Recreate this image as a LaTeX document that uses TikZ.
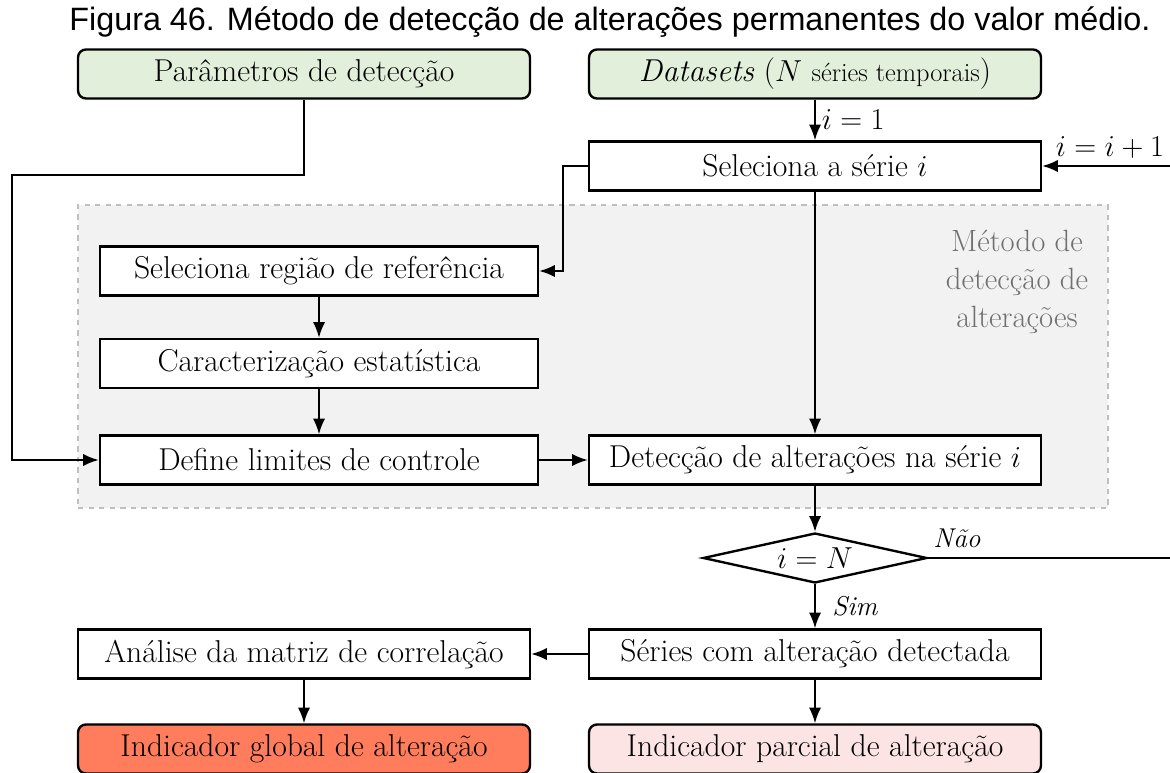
\documentclass[tikz,border=0pt]{standalone}
\usepackage{fontspec}
\newfontfamily\captionfont{Liberation Sans}
\definecolor{inputgreen}{RGB}{226,239,218}
\definecolor{methodgray}{RGB}{242,242,242}
\definecolor{dashgray}{RGB}{191,191,191}
\definecolor{labelgray}{RGB}{112,112,112}
\definecolor{globalred}{RGB}{255,124,92}
\definecolor{partialpink}{RGB}{252,228,228}
\usetikzlibrary{arrows.meta,positioning,shapes.geometric}

\tikzset{
  box/.style={draw, line width=1.35pt, fill=white, minimum height=0.98cm, align=center, font=\fontsize{18}{21}\selectfont},
  inbox/.style={box, rounded corners=4.5pt, fill=inputgreen, minimum width=9.04cm},
  outbox/.style={box, rounded corners=4.5pt, minimum width=9.04cm},
  flow/.style={-{Latex[length=9pt,width=7pt]}, line width=1.1pt},
  lbl/.style={font=\fontsize{15.5}{18}\selectfont},
  mathlbl/.style={font=\fontsize{16}{19}\selectfont}
}

\begin{document}
\begin{tikzpicture}[x=0.02cm, y=-0.02cm]
  \useasboundingbox (0,0) rectangle (1170,773);

  %% Title
  \node[font=\captionfont\fontsize{18.4}{21}\selectfont] (title) at (610,22) {Figura 46. Método de detecção de alterações permanentes do valor médio.};

  %% Method region
  \node[draw=dashgray, dashed, line width=1pt, fill=methodgray, minimum width=20.6cm, minimum height=6.06cm] (method) at (593,356.5) {};
  \node[align=center, text=labelgray, font=\fontsize{17.5}{21.5}\selectfont] (methodlbl) at (1017,282) {Método de\\detecção de\\alterações};

  %% Inputs
  \node[inbox] (param) at (304,74) {Parâmetros de detecção};
  \node[inbox] (data)  at (815,74) {\textit{Datasets} ($N$ {\fontsize{15}{18}\selectfont séries temporais})};

  %% Boxes
  \node[box, minimum width=9.04cm] (sel)    at (815,166)   {Seleciona a série $i$};
  \node[box, minimum width=8.76cm] (refreg) at (319,271)   {Seleciona região de referência};
  \node[box, minimum width=8.76cm] (stats)  at (319,363.5) {Caracterização estatística};
  \node[box, minimum width=8.76cm] (limits) at (319,460)   {Define limites de controle};
  \node[box, minimum width=9.04cm] (detect) at (815,460)   {Detecção de alterações na série $i$};
  \node[draw, diamond, aspect=4.5, line width=1.35pt, fill=white, minimum width=4.48cm, minimum height=1.0cm, inner sep=0pt, font=\fontsize{18}{21}\selectfont] (dec) at (815,558) {$i=N$};
  \node[box, minimum width=9.04cm] (series) at (815,654)   {Séries com alteração detectada};
  \node[box, minimum width=9.04cm] (corr)   at (304,654)   {Análise da matriz de correlação};

  %% Outputs
  \node[outbox, fill=globalred]   (global)  at (304,749) {Indicador global de alteração};
  \node[outbox, fill=partialpink] (partial) at (815,749) {Indicador parcial de alteração};

  %% Bends
  \coordinate (parambend) at (12,175);
  \coordinate (selbend) at (563,166);
  \coordinate (loopright) at (1192,558);

  %% Arrows
  \draw[flow] (param.south) |- (parambend) |- (limits.west);
  \draw[flow] (data.south) -- node[mathlbl, right] {$i=1$} (sel.north);
  \draw[flow] (sel.west) -- (selbend) |- (refreg.east);
  \draw[flow] (sel.south) -- (detect.north);
  \draw[flow] (refreg.south) -- (stats.north);
  \draw[flow] (stats.south) -- (limits.north);
  \draw[flow] (limits.east) -- (detect.west);
  \draw[flow] (detect.south) -- (dec.north);
  \draw[flow] (dec.south) -- node[lbl, right, xshift=6pt] {\textit{Sim}} (series.north);
  \draw[flow] (dec.east) -- (loopright) |- (sel.east);
  \draw[flow] (series.west) -- (corr.east);
  \draw[flow] (corr.south) -- (global.north);
  \draw[flow] (series.south) -- (partial.north);

  %% Loop labels
  \node[lbl] (nao) at (957,538) {\textit{Não}};
  \node[mathlbl] (incr) at (1110,148) {$i=i+1$};
\end{tikzpicture}
\end{document}
